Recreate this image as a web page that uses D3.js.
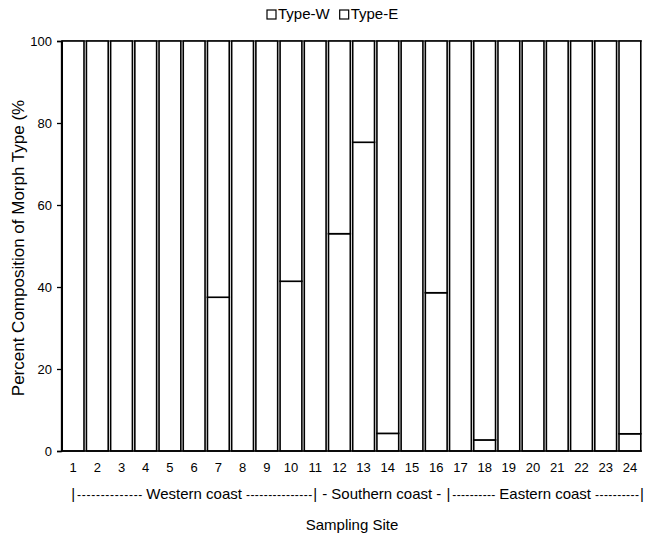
<!DOCTYPE html>
<html>
<head>
<meta charset="utf-8">
<script src="https://cdn.jsdelivr.net/npm/d3@7"></script>
<style>
  body { margin: 0; background: #fff; }
  text { font-family: "Liberation Sans", Arial, sans-serif; fill: #000; }
</style>
</head>
<body>
<div class="chart"></div>
<script>
// chart data
var sites = d3.range(1, 25).map(String);
var typeW = [100, 100, 100, 100, 100, 100, 37.5, 100, 100, 41.4, 100, 53,
             75.3, 4.3, 0, 38.6, 0, 2.7, 0, 0, 0, 0, 0, 4.2];
var typeE = typeW.map(d => 100 - d);
var seriesNames = ["Type-W", "Type-E"];
var yTicks = [0, 20, 40, 60, 80, 100];
// coast groups, boundaries in site units
var regions = [
  { name: "Western coast", from: 1, to: 11, left: "", right: "" },
  { name: "Southern coast", from: 11, to: 16.5, left: "- ", right: " -" },
  { name: "Eastern coast", from: 16.5, to: 24.5, left: "", right: "" }
];

var svgWidth = 648;
var svgHeight = 538;
var margin = { top: 41, right: 6, bottom: 87, left: 61 };
var width = svgWidth - margin.left - margin.right;
var height = svgHeight - margin.top - margin.bottom;

var svg = d3.select(".chart")
  .append("svg")
  .attr("width", svgWidth)
  .attr("height", svgHeight);

var chartGroup = svg.append("g")
  .attr("transform", `translate(${margin.left}, ${margin.top})`);

var table = sites.map((s, i) => ({ site: s, "Type-W": typeW[i], "Type-E": typeE[i] }));
var stacked = d3.stack().keys(seriesNames)(table);

var x = d3.scaleBand()
  .domain(sites)
  .range([0, width])
  .paddingInner(0.1)
  .paddingOuter(0.05);

var y = d3.scaleLinear()
  .domain([0, 100])
  .range([height, 0]);

// site position in continuous units (1 = centre of first bar)
var sitePos = d3.scaleLinear()
  .domain([1, 2])
  .range([x("1") + x.bandwidth() / 2, x("2") + x.bandwidth() / 2]);

// top frame line
chartGroup.append("line")
  .attr("x1", 0).attr("x2", width)
  .attr("y1", 0).attr("y2", 0)
  .attr("stroke", "#000")
  .attr("stroke-width", 1.2);

// bars
chartGroup.selectAll("g.series")
  .data(stacked)
  .enter()
  .append("g")
  .attr("class", "series")
  .selectAll("rect")
  .data(d => d.filter(p => p[1] - p[0] > 0))
  .enter()
  .append("rect")
  .attr("x", d => x(d.data.site))
  .attr("y", d => y(d[1]))
  .attr("width", x.bandwidth())
  .attr("height", d => y(d[0]) - y(d[1]))
  .attr("fill", "#fff")
  .attr("stroke", "#000")
  .attr("stroke-width", 1.6);

// y axis
var leftAxis = d3.axisLeft(y).tickValues(yTicks).tickSize(4).tickPadding(5);
var yAxis = chartGroup.append("g").call(leftAxis);
yAxis.selectAll("text")
  .style("font-size", "13px")
  .style("font-family", "'Liberation Sans', Arial, sans-serif");
yAxis.selectAll("path, line").attr("stroke", "#000").attr("stroke-width", 1.3);

// x baseline
chartGroup.append("line")
  .attr("x1", 0).attr("x2", width)
  .attr("y1", height).attr("y2", height)
  .attr("stroke", "#000")
  .attr("stroke-width", 1.3);

// site numbers
chartGroup.selectAll("text.site")
  .data(sites)
  .enter()
  .append("text")
  .attr("class", "site")
  .attr("x", d => x(d) + x.bandwidth() / 2)
  .attr("y", height + 21)
  .attr("text-anchor", "middle")
  .style("font-size", "13px")
  .text(d => d);

// coast groups row
var rowY = height + 48;
var rowSize = "15px";
regions.forEach(function(r) {
  var x0 = sitePos(r.from);
  var x1 = sitePos(r.to);
  var mid = (x0 + x1) / 2;
  var label = chartGroup.append("text")
    .attr("x", mid)
    .attr("y", rowY)
    .attr("text-anchor", "middle")
    .style("font-size", rowSize)
    .text(r.left + r.name + r.right);
  var w = label.node().getComputedTextLength();
  var gaps = [[x0 + 4, mid - w / 2 - 4], [mid + w / 2 + 4, x1 - 3]];
  gaps.forEach(function(g) {
    var len = g[1] - g[0];
    if (len < 6) return;
    chartGroup.append("text")
      .attr("x", g[0])
      .attr("y", rowY)
      .attr("textLength", len)
      .attr("lengthAdjust", "spacing")
      .style("font-size", "12px")
      .text("-".repeat(Math.max(1, Math.round(len / 4.5))));
  });
});
var bounds = [regions[0].from].concat(regions.map(r => r.to));
chartGroup.selectAll("text.bar")
  .data(bounds)
  .enter()
  .append("text")
  .attr("class", "bar")
  .attr("x", d => sitePos(d))
  .attr("y", rowY)
  .attr("text-anchor", "middle")
  .style("font-size", rowSize)
  .text("|");

// x axis title
chartGroup.append("text")
  .attr("x", 352 - margin.left)
  .attr("y", height + 79)
  .attr("text-anchor", "middle")
  .style("font-size", "15px")
  .text("Sampling Site");

// y axis title
chartGroup.append("text")
  .attr("transform", `translate(${18 - margin.left}, ${248 - margin.top}) rotate(-90)`)
  .attr("text-anchor", "middle")
  .attr("dy", "0.35em")
  .style("font-size", "17px")
  .text("Percent Composition of Morph Type (%");

// legend
var legend = svg.append("g").attr("transform", "translate(267, 13)");
var lx = 0;
seriesNames.forEach(function(name) {
  legend.append("rect")
    .attr("x", lx).attr("y", -3)
    .attr("width", 9).attr("height", 9)
    .attr("fill", "#fff")
    .attr("stroke", "#000")
    .attr("stroke-width", 1.2);
  var t = legend.append("text")
    .attr("x", lx + 11)
    .attr("y", 6)
    .style("font-size", "15px")
    .text(name);
  lx += 11 + t.node().getComputedTextLength() + 10;
});
</script>
</body>
</html>
